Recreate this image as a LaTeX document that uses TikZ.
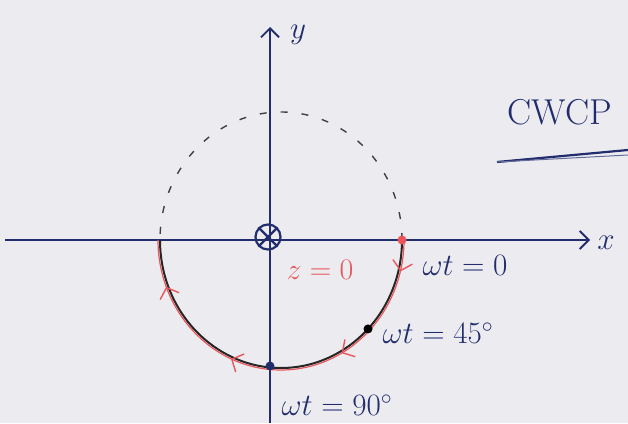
\documentclass[tikz,border=0pt]{standalone}
\usetikzlibrary{arrows.meta,decorations.markings,calc}
\definecolor{ink}{RGB}{35,45,110}
\definecolor{redink}{RGB}{232,85,90}
\definecolor{paper}{RGB}{236,236,240}
\tikzset{
  axis/.style={ink, line width=1.1pt, -{Straight Barb[length=9pt,width=18pt,line width=1.8pt]}},
  lbl/.style={ink, font=\fontsize{24}{28}\selectfont, inner sep=0pt, scale=1.25},
  redlbl/.style={redink, font=\fontsize{24}{28}\selectfont, inner sep=0pt, scale=1.2},
  dotmark/.style={circle, fill=#1, inner sep=0pt, minimum size=9pt},
  chev/.style={decoration={markings,
      mark=at position 0.08 with {\arrow{Straight Barb[length=9pt,width=20pt,line width=1.4pt]}},
      mark=at position 0.34 with {\arrow{Straight Barb[length=9pt,width=20pt,line width=1.4pt]}},
      mark=at position 0.63 with {\arrow{Straight Barb[length=9pt,width=20pt,line width=1.4pt]}},
      mark=at position 0.88 with {\arrow{Straight Barb[length=9pt,width=20pt,line width=1.4pt]}}},
      postaction={decorate}}
}
\begin{document}
\begin{tikzpicture}[x=1pt,y=1pt]
\useasboundingbox (0,0) rectangle (628,423);
\fill[paper] (0,0) rectangle (628,423);
% axes
\coordinate (xs) at (5,183);
\coordinate (xe) at (590,183);
\coordinate (ys) at (270,0);
\coordinate (ye) at (270,396);
\draw[axis] (xs) -- (xe);
\draw[axis] (ys) -- (ye);
\node[lbl] (xl) at (606,180) {$x$};
\node[lbl] (yl) at (298,388) {$y$};
% circle
\coordinate (O) at (281,183);
\draw[black!75, line width=1.4pt, dash pattern=on 7pt off 14pt] (402,183) arc[start angle=0, end angle=180, x radius=121, y radius=128];
\draw[black!85, line width=2pt] (402,183) arc[start angle=0, end angle=-180, x radius=121, y radius=128];
\draw[redink, line width=1.2pt, chev] (404,183) arc[start angle=0, end angle=-180, x radius=123, y radius=130];
% points
\node[dotmark=redink] (p0) at (402,183) {};
\node[dotmark=black] (p45) at ($(O)+(-44:121 and 128)$) {};
\node[dotmark=ink] (p90) at (270,57) {};
% wave into page symbol
\node[draw=ink, line width=2.2pt, circle, minimum size=25pt, inner sep=0pt] (src) at (268,186) {};
\draw[ink, line width=2.2pt] (src.north east) -- (src.south west);
\draw[ink, line width=2.2pt] (src.north west) -- (src.south east);
% labels
\node[redlbl] (z0) at (320,153) {$z=0$};
\node[lbl] (l0) at (465,158) {$\omega t = 0$};
\node[lbl] (l45) at (438,90) {$\omega t = 45^\circ$};
\node[lbl] (l90) at (337,18) {$\omega t = 90^\circ$};
% CWCP
\node[ink, font=\fontsize{36}{40}\selectfont, inner sep=0pt] (cw) at (560,311) {CWCP};
\coordinate (u1) at (497,261);
\coordinate (u2) at (628,273);
\coordinate (u3) at (628,268);
\draw[ink, line width=2.2pt] (u1) -- (u2);
\draw[ink!70, line width=1pt] (u1) -- (u3);
\end{tikzpicture}
\end{document}
